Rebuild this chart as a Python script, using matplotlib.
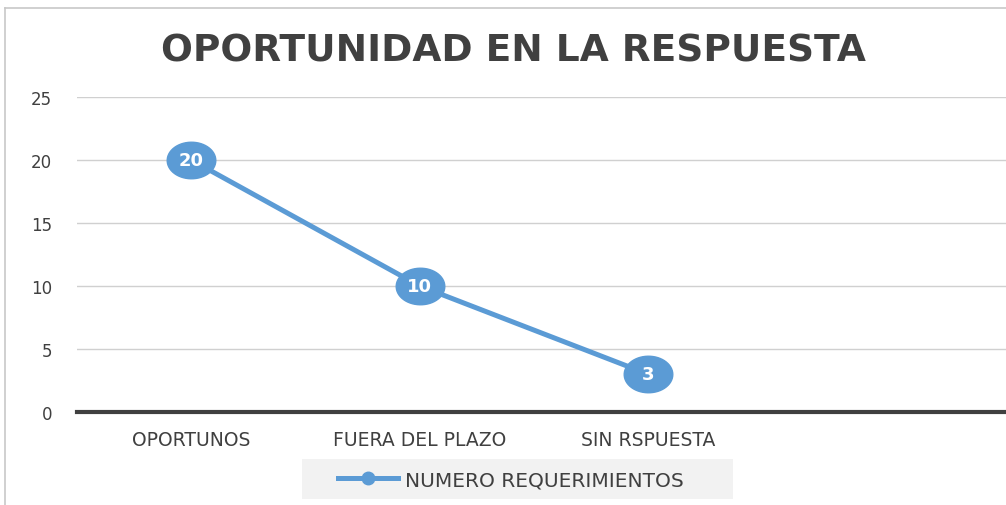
import matplotlib.pyplot as plt
from matplotlib.path import Path
from matplotlib.lines import Line2D
from matplotlib.patches import Rectangle
import numpy as np

# Datos del grafico
categorias = ["OPORTUNOS", "FUERA DEL PLAZO", "SIN RSPUESTA"]
requerimientos = [20, 10, 3]
serie = "NUMERO REQUERIMIENTOS"
titulo = "OPORTUNIDAD EN LA RESPUESTA"

AZUL = "#5B9BD5"
GRIS_TEXTO = "#404040"

# marcador eliptico (mas ancho que alto)
t = np.linspace(0, 2 * np.pi, 60)
elipse = Path(np.column_stack([1.33 * np.cos(t), np.sin(t)]), closed=True)

fig = plt.figure(figsize=(10.06, 5.06), dpi=100)
ax = fig.add_axes([77 / 1006, 93 / 506, 929 / 1006, 315 / 506])

x = np.arange(len(categorias))
ax.plot(x, requerimientos, color=AZUL, lw=3.6, marker=elipse, markersize=35,
        markerfacecolor=AZUL, markeredgecolor=AZUL, zorder=3)
for xi, v in zip(x, requerimientos):
    ax.text(xi, v, str(v), ha="center", va="center", color="white",
            fontsize=13, fontweight="bold", zorder=4)

ax.set_xlim(-0.5, 3.566)
ax.set_ylim(0, 25)
ax.set_yticks(range(0, 26, 5))
ax.set_xticks(x)
ax.set_xticklabels(categorias)
ax.grid(axis="y", color="#D0D0D0", lw=1)
ax.set_axisbelow(True)
for s in ["top", "right", "left"]:
    ax.spines[s].set_visible(False)
ax.spines["bottom"].set_color(GRIS_TEXTO)
ax.spines["bottom"].set_linewidth(3)
ax.tick_params(axis="both", length=0, colors=GRIS_TEXTO, labelsize=12)
ax.tick_params(axis="y", pad=18)
ax.tick_params(axis="x", pad=13, labelsize=13.5)

fig.text(0.51, 1 - 52 / 506, titulo, ha="center", va="center",
         fontsize=27, fontweight="bold", color=GRIS_TEXTO)

# borde del area del grafico
fig.add_artist(Line2D([5 / 1006, 5 / 1006], [0, 1 - 9 / 506], color="#C8C8C8", lw=1.2))
fig.add_artist(Line2D([5 / 1006, 1], [1 - 9 / 506, 1 - 9 / 506], color="#C8C8C8", lw=1.2))

# fondo de la leyenda
fig.add_artist(Rectangle((302 / 1006, 1 - 500 / 506), 431 / 1006, 40 / 506,
                         transform=fig.transFigure, facecolor="#F2F2F2",
                         edgecolor="none", zorder=0))

handle = Line2D([], [], color=AZUL, lw=3.6, marker="o", markersize=9)
leg = fig.legend([handle], [serie], loc="center left", bbox_to_anchor=(338 / 1006, 1 - 481 / 506),
                 frameon=False, fontsize=14.5, handlelength=3.0, handletextpad=0.35,
                 borderpad=0, borderaxespad=0)
for txt in leg.get_texts():
    txt.set_color(GRIS_TEXTO)

fig.savefig("out.png", dpi=100)
